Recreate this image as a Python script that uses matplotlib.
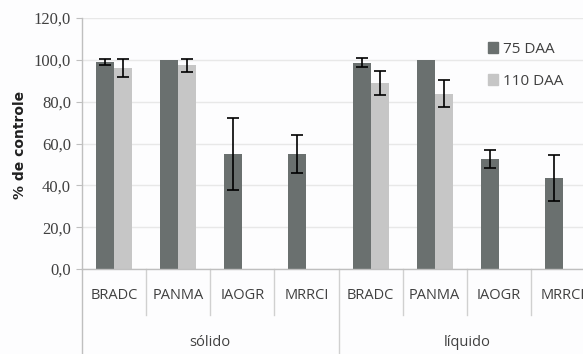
import matplotlib
matplotlib.use("Agg")
import matplotlib.pyplot as plt
import matplotlib.transforms as mtransforms
from matplotlib.patches import Patch
import numpy as np

groups = ["sólido", "líquido"]
categories = ["BRADC", "PANMA", "IAOGR", "MRRCI", "BRADC", "PANMA", "IAOGR", "MRRCI"]
series_names = ["75 DAA", "110 DAA"]
vals_75 = [99.0, 100.0, 55.0, 55.0, 98.7, 100.0, 52.5, 43.5]
err_75 = [1.5, 0.0, 17.0, 9.0, 2.3, 0.0, 4.4, 11.0]
vals_110 = [96.0, 97.3, 0.0, 0.0, 88.8, 83.8, 0.0, 0.0]
err_110 = [4.4, 3.0, 0.0, 0.0, 5.7, 6.5, 0.0, 0.0]
yticks = [0, 20, 40, 60, 80, 100, 120]
ytick_labels = ["0,0", "20,0", "40,0", "60,0", "80,0", "100,0", "120,0"]

serif_family = "Liberation Serif"

W, H = 583, 354
fig = plt.figure(figsize=(W / 100, H / 100), dpi=100)
fig.patch.set_facecolor("#fdfdfe")

ax_l, ax_r, ax_t, ax_b = 82, 595, 18, 269
ax = fig.add_axes([ax_l / W, 1 - ax_b / H, (ax_r - ax_l) / W, (ax_b - ax_t) / H])
ax.set_facecolor("#fdfdfe")

dark = "#6a706f"
light = "#c6c6c6"
x = np.arange(len(categories))
bw = 0.28
ekw = dict(ecolor="black", elinewidth=1.2, capsize=4, capthick=1.2)

ax.bar(x - bw / 2, vals_75, bw, color=dark, zorder=2, label=series_names[0])
ax.bar(x + bw / 2, vals_110, bw, color=light, zorder=2, label=series_names[1])
i75 = [i for i, e in enumerate(err_75) if e > 0]
ax.errorbar(x[i75] - bw / 2, [vals_75[i] for i in i75], yerr=[err_75[i] for i in i75], fmt="none", zorder=3, **ekw)
i110 = [i for i, e in enumerate(err_110) if e > 0]
ax.errorbar(x[i110] + bw / 2, [vals_110[i] for i in i110], yerr=[err_110[i] for i in i110], fmt="none", zorder=3, **ekw)

ax.set_xlim(-0.5, len(categories) - 0.5)
ax.set_ylim(0, 120)
ax.set_yticks(yticks)
ax.set_yticklabels(ytick_labels, fontdict={"family": serif_family, "size": 12, "color": "#404040"})
ax.yaxis.grid(True, color="#e8e8e8", linewidth=1, zorder=0)
ax.set_axisbelow(True)
ax.tick_params(axis="y", length=4, width=0.8, color="#bfbfbf", pad=4,
               labelfontfamily=serif_family, labelsize=12, labelcolor="#404040")
ax.set_xticks(x)
ax.set_xticklabels(categories)
ax.tick_params(axis="x", length=0, pad=14, labelfontfamily="Open Sans",
               labelsize=10.5, labelcolor="#404040")
for s in ["top", "right"]:
    ax.spines[s].set_visible(False)
for s in ["left", "bottom"]:
    ax.spines[s].set_color("#bfbfbf")
    ax.spines[s].set_linewidth(1)

trans = mtransforms.blended_transform_factory(ax.transData, ax.transAxes)
inner_bottom = -(315 - ax_b) / (ax_b - ax_t)
outer_bottom = -(360 - ax_b) / (ax_b - ax_t)
n_per = len(categories) // len(groups)
for i in range(1, len(categories)):
    yb = outer_bottom if i % n_per == 0 else inner_bottom
    ax.plot([i - 0.5, i - 0.5], [0, yb], transform=trans, color="#d0d0d0", lw=1, clip_on=False)
ax.plot([-0.5, -0.5], [0, outer_bottom], transform=trans, color="#bfbfbf", lw=1, clip_on=False)
ax.plot([len(categories) - 0.5] * 2, [0, outer_bottom], transform=trans, color="#d0d0d0", lw=1, clip_on=False)

label_y = -(343 - ax_b) / (ax_b - ax_t)
for gi, g in enumerate(groups):
    cx = gi * n_per + (n_per - 1) / 2
    ax.text(cx, label_y, g, transform=trans, ha="center", va="center",
            family="Open Sans", fontsize=10.5, color="#404040")

fig.text(20 / W, 1 - 145 / H, "% de controle", rotation=90, ha="center", va="center",
         family="DejaVu Sans", fontsize=10, fontweight="bold", color="#202020")

handles = [Patch(color=dark), Patch(color=light)]
leg = fig.legend(handles, series_names, loc="upper left",
                 bbox_to_anchor=(474 / W, 1 - 28 / H), frameon=False,
                 handlelength=0.7, handleheight=0.7, handletextpad=0.3,
                 labelspacing=1.1, prop={"family": "Open Sans", "size": 11})
for t in leg.get_texts():
    t.set_color("#404040")

fig.savefig("out.png", dpi=100, facecolor=fig.get_facecolor())
